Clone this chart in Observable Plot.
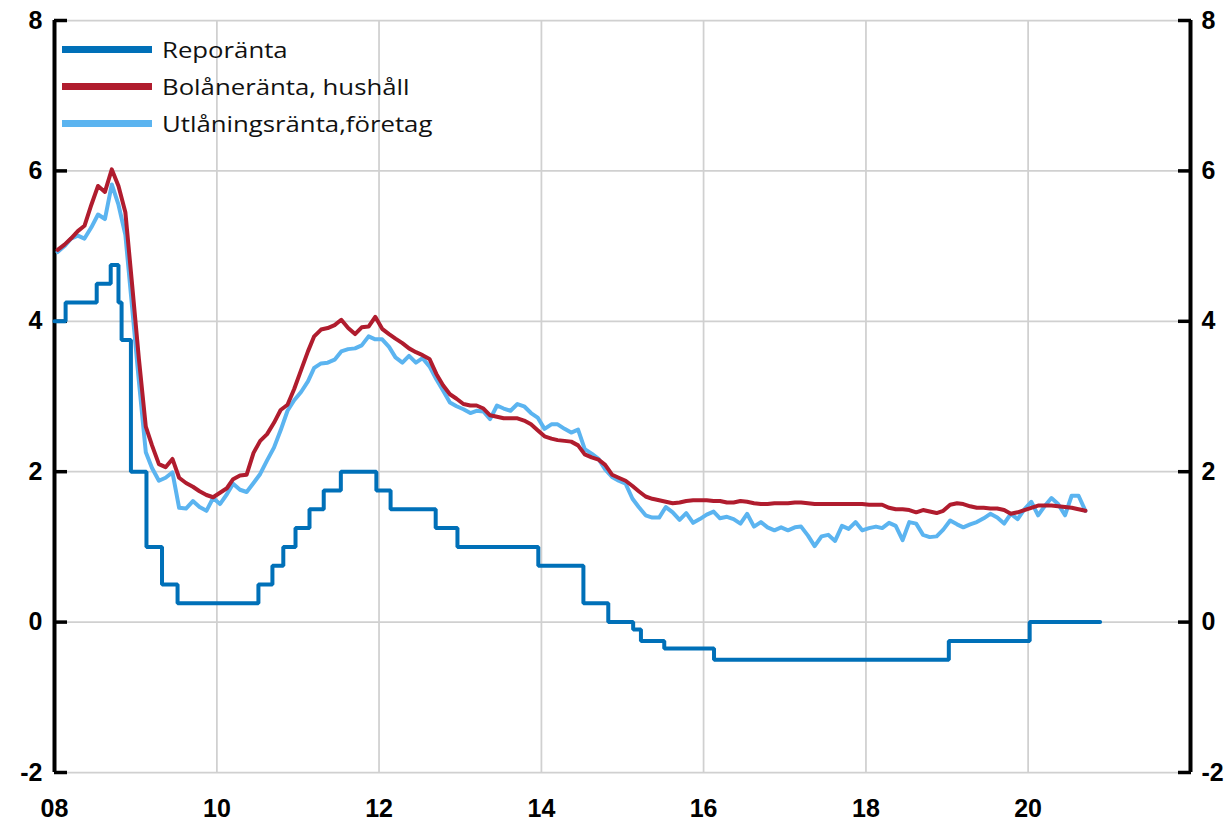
<!DOCTYPE html>
<html><head><meta charset="utf-8">
<script src="https://cdn.jsdelivr.net/npm/d3@7"></script>
<script src="https://cdn.jsdelivr.net/npm/@observablehq/plot@0.6"></script>
<style>
body{margin:0;background:#fff;}
#wrap{position:relative;width:1229px;height:823px;background:#fff;}
#legend{position:absolute;left:62px;top:30.5px;font-family:"Open Sans",Lato,sans-serif;font-size:22px;color:#111;}
.item{display:flex;align-items:center;height:37px;white-space:nowrap;}
.sw{width:90px;height:7px;margin-right:10px;flex:none;}
.lab{display:inline-block;transform:scaleX(1.17);transform-origin:left center;}
</style></head><body>
<div id="wrap"><div id="chart"></div><div id="legend"></div></div>
<script>
// Series names and colours
const seriesNames = ["Reporänta", "Bolåneränta, hushåll", "Utlåningsränta,företag"];
const seriesColors = ["#0070b8", "#b01c2e", "#5bb4f0"];

// Monthly series, starting January 2008
const startYear = 2008;
const bolan = [
4.95,5.02,5.10,5.20,5.27,5.55,5.80,5.72,6.02,5.80,5.45,4.50,
3.50,2.60,2.35,2.10,2.06,2.17,1.92,1.85,1.80,1.74,1.69,1.66,
1.72,1.78,1.90,1.95,1.96,2.25,2.41,2.50,2.65,2.82,2.89,3.10,
3.35,3.60,3.80,3.89,3.91,3.95,4.02,3.91,3.83,3.92,3.93,4.06,
3.90,3.83,3.77,3.71,3.64,3.59,3.55,3.50,3.30,3.15,3.03,2.97,
2.90,2.88,2.88,2.84,2.75,2.73,2.71,2.71,2.71,2.68,2.63,2.55,
2.47,2.44,2.42,2.41,2.40,2.35,2.23,2.19,2.16,2.09,1.96,1.92,
1.88,1.81,1.74,1.67,1.64,1.62,1.60,1.58,1.59,1.61,1.62,1.62,
1.62,1.61,1.61,1.59,1.59,1.61,1.60,1.58,1.57,1.57,1.58,1.58,
1.58,1.59,1.59,1.58,1.57,1.57,1.57,1.57,1.57,1.57,1.57,1.57,
1.56,1.56,1.56,1.52,1.50,1.50,1.49,1.46,1.49,1.47,1.45,1.48,
1.56,1.58,1.57,1.54,1.52,1.52,1.51,1.51,1.49,1.44,1.46,1.49,
1.52,1.55,1.55,1.55,1.54,1.53,1.52,1.50,1.48
];
const utlaning = [
4.92,5.00,5.10,5.14,5.10,5.25,5.42,5.36,5.82,5.55,5.15,4.20,
3.20,2.26,2.05,1.88,1.92,1.99,1.52,1.51,1.61,1.53,1.48,1.65,
1.57,1.70,1.84,1.76,1.73,1.85,1.97,2.15,2.32,2.55,2.81,2.95,
3.06,3.20,3.38,3.44,3.45,3.49,3.60,3.63,3.64,3.68,3.80,3.76,
3.76,3.66,3.52,3.45,3.54,3.45,3.51,3.40,3.23,3.08,2.92,2.87,
2.83,2.78,2.81,2.80,2.70,2.88,2.84,2.81,2.90,2.87,2.78,2.72,
2.57,2.63,2.63,2.57,2.52,2.56,2.30,2.24,2.17,2.03,1.93,1.88,
1.84,1.64,1.53,1.42,1.39,1.39,1.53,1.46,1.36,1.45,1.32,1.37,
1.43,1.47,1.38,1.40,1.37,1.31,1.44,1.27,1.33,1.26,1.22,1.26,
1.22,1.26,1.27,1.15,1.01,1.14,1.16,1.08,1.28,1.24,1.33,1.22,
1.25,1.27,1.25,1.32,1.28,1.09,1.33,1.31,1.16,1.13,1.14,1.23,
1.35,1.30,1.26,1.30,1.33,1.38,1.44,1.39,1.31,1.44,1.37,1.50,
1.60,1.42,1.54,1.65,1.57,1.42,1.68,1.68,1.48
];

// Repo rate: dates of change and new level
const repoDates = ["2008-01-01","2008-02-20","2008-07-09","2008-09-10","2008-10-15","2008-10-29","2008-12-10",
"2009-02-18","2009-04-29","2009-07-08","2010-07-07","2010-09-08","2010-10-27","2010-12-21",
"2011-02-22","2011-04-27","2011-07-13","2011-12-20","2012-02-22","2012-09-12","2012-12-19",
"2013-12-18","2014-07-09","2014-10-29","2015-02-18","2015-03-25","2015-07-08","2016-02-17",
"2019-01-09","2020-01-08","2020-11-20"];
const repoValues = [4.00,4.25,4.50,4.75,4.25,3.75,2.00,
1.00,0.50,0.25,0.50,0.75,1.00,1.25,
1.50,1.75,2.00,1.75,1.50,1.25,1.00,
0.75,0.25,0.00,-0.10,-0.25,-0.35,-0.50,
-0.25,0.00,0.00];

// Axes
const xDomainYears = [2008, 2022];
const xTickYears = [2008, 2010, 2012, 2014, 2016, 2018, 2020];
const yTicks = [-2, 0, 2, 4, 6, 8];

const toDate = s => new Date(s + "T00:00:00Z");
const monthDate = i => new Date(Date.UTC(startYear, i, 15));
const bolanData = bolan.map((v, i) => ({date: monthDate(i), value: v}));
const utlData = utlaning.map((v, i) => ({date: monthDate(i), value: v}));
const repoData = repoDates.map((d, i) => ({date: toDate(d), value: repoValues[i]}));
const xDomain = xDomainYears.map(y => new Date(Date.UTC(y, 0, 1)));
const xTicks = xTickYears.map(y => new Date(Date.UTC(y, 0, 1)));

const gridStyle = {stroke: "#d0d0d0", strokeOpacity: 1, strokeWidth: 1.75};
const tickFont = {fontSize: 25, fontWeight: "bold", fill: "#000"};
const yFmt = d => String(d);

const chart = Plot.plot({
  width: 1229, height: 823,
  marginLeft: 54, marginRight: 39, marginTop: 20, marginBottom: 51,
  style: {fontFamily: "'Liberation Sans', 'DejaVu Sans', sans-serif", fontWeight: "bold", background: "#fff", overflow: "visible"},
  x: {type: "utc", domain: xDomain},
  y: {domain: [yTicks[0], yTicks[yTicks.length - 1]]},
  marks: [
    Plot.gridX(xTicks, gridStyle),
    Plot.gridY(yTicks, gridStyle),
    Plot.axisX(xTicks, {tickSize: 0, tickPadding: 27, tickFormat: d3.utcFormat("%y"), label: null, ...tickFont}),
    Plot.axisY(yTicks, {anchor: "left", tickSize: 0, tickPadding: 12, tickFormat: yFmt, label: null, ...tickFont}),
    Plot.axisY(yTicks, {anchor: "right", tickSize: 0, tickPadding: 11, tickFormat: yFmt, label: null, ...tickFont}),
    Plot.axisY(yTicks, {anchor: "left", tickSize: 13, dx: 13, tickFormat: () => "", label: null, stroke: "#000", strokeWidth: 3.5}),
    Plot.axisY(yTicks, {anchor: "right", tickSize: 13, dx: -13, tickFormat: () => "", label: null, stroke: "#000", strokeWidth: 3.5}),
    Plot.ruleX(xDomain, {stroke: "#000", strokeWidth: 4}),
    Plot.line(repoData, {x: "date", y: "value", curve: "step-after", stroke: seriesColors[0], strokeWidth: 4, strokeLinejoin: "miter"}),
    Plot.line(utlData, {x: "date", y: "value", stroke: seriesColors[2], strokeWidth: 4, strokeLinejoin: "round"}),
    Plot.line(bolanData, {x: "date", y: "value", stroke: seriesColors[1], strokeWidth: 4, strokeLinejoin: "round"})
  ]
});
document.getElementById("chart").appendChild(chart);

const legend = document.getElementById("legend");
seriesNames.forEach((name, i) => {
  const item = document.createElement("div");
  item.className = "item";
  const sw = document.createElement("span");
  sw.className = "sw";
  sw.style.background = seriesColors[i];
  const lab = document.createElement("span");
  lab.className = "lab";
  lab.textContent = name;
  item.appendChild(sw);
  item.appendChild(lab);
  legend.appendChild(item);
});
</script>
</body></html>
